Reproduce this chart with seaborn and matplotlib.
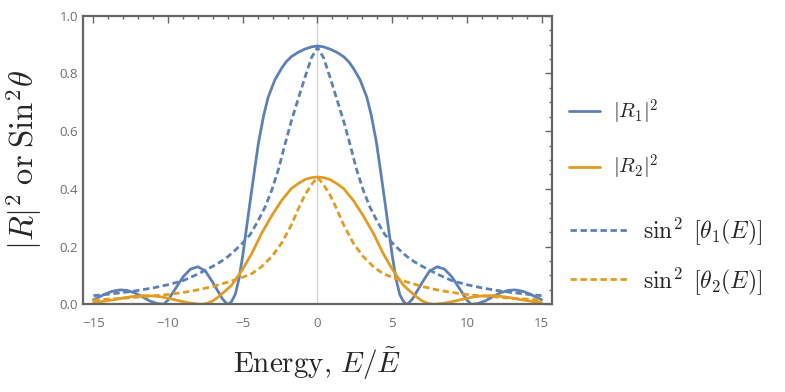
import numpy as np
import pandas as pd
import seaborn as sns
import matplotlib.pyplot as plt
from matplotlib.lines import Line2D
from matplotlib.ticker import MultipleLocator, FuncFormatter

# |R1|^2 (solid blue)
r1_x = [-15, -14.75, -14.25, -13.75, -13.2, -12.75, -12.25, -11.75, -11.25, -10.75, -10.3,
        -10, -9.5, -9, -8.5, -8, -7.5, -7, -6.6, -6.35, -6.1, -5.95, -5.75, -5.5, -5.25, -5,
        -4.75, -4.5, -4.2, -3.95, -3.6, -3.3, -2.85, -2.4, -2.1, -1.75, -1.3, -0.85, -0.4,
        0, 0.4, 0.85, 1.3, 1.75, 2.1, 2.4, 2.85, 3.3, 3.6, 3.95, 4.2, 4.5, 4.75,
        5, 5.25, 5.5, 5.75, 5.95, 6.1, 6.35, 6.6, 7, 7.5, 8, 8.5, 9, 9.5, 10, 10.3,
        10.75, 11.25, 11.75, 12.25, 12.75, 13.2, 13.75, 14.25, 14.75, 15]
r1_y = [0.016, 0.022, 0.035, 0.045, 0.05, 0.048, 0.04, 0.027, 0.012, 0.003, 0.0,
        0.015, 0.055, 0.095, 0.122, 0.13, 0.115, 0.075, 0.04, 0.018, 0.004, 0.0, 0.01, 0.035, 0.09, 0.17,
        0.265, 0.36, 0.47, 0.56, 0.655, 0.718, 0.778, 0.818, 0.84, 0.858, 0.873, 0.884, 0.892,
        0.895, 0.892, 0.884, 0.873, 0.858, 0.84, 0.818, 0.778, 0.718, 0.655, 0.56, 0.47, 0.36, 0.265,
        0.17, 0.09, 0.035, 0.01, 0.0, 0.004, 0.018, 0.04, 0.075, 0.115, 0.13, 0.122, 0.095, 0.055, 0.015, 0.0,
        0.003, 0.012, 0.027, 0.04, 0.048, 0.05, 0.045, 0.035, 0.022, 0.016]

# |R2|^2 (solid orange)
r2_x = [-15, -14.5, -14, -13.5, -13, -12.5, -12, -11.5, -11, -10.5, -10, -9.5, -9, -8.5,
        -7.8, -7.4, -7, -6.6, -6.2, -5.75, -5.05, -4.4, -3.75, -3.05, -2.4, -1.75, -1.3, -0.85, -0.4,
        0, 0.4, 0.85, 1.3, 1.75, 2.4, 3.05, 3.75, 4.4, 5.05, 5.75, 6.2, 6.6, 7, 7.4, 7.8,
        8.5, 9, 9.5, 10, 10.5, 11, 11.5, 12, 12.5, 13, 13.5, 14, 14.5, 15]
r2_y = [0.006, 0.009, 0.013, 0.017, 0.022, 0.026, 0.029, 0.03, 0.029, 0.026, 0.021, 0.015, 0.009, 0.004,
        0.0, 0.003, 0.012, 0.027, 0.045, 0.066, 0.118, 0.176, 0.245, 0.308, 0.36, 0.401, 0.418, 0.432, 0.439,
        0.441, 0.439, 0.432, 0.418, 0.401, 0.36, 0.308, 0.245, 0.176, 0.118, 0.066, 0.045, 0.027, 0.012, 0.003, 0.0,
        0.004, 0.009, 0.015, 0.021, 0.026, 0.029, 0.03, 0.029, 0.026, 0.022, 0.017, 0.013, 0.009, 0.006]

# sin^2 theta_1 (dashed blue)
s1_x = [-15, -14, -13, -12, -11, -10, -9, -8, -7, -6.5, -6, -5.5, -5, -4.5, -4, -3.5, -3.05,
        -2.6, -2.2, -1.75, -1.3, -0.85, -0.4, 0, 0.4, 0.85, 1.3, 1.75, 2.2, 2.6, 3.05, 3.5, 4,
        4.5, 5, 5.5, 6, 6.5, 7, 8, 9, 10, 11, 12, 13, 14, 15]
s1_y = [0.03, 0.035, 0.041, 0.048, 0.057, 0.068, 0.082, 0.105, 0.132, 0.147, 0.165, 0.188, 0.213, 0.242, 0.287, 0.338, 0.397,
        0.47, 0.55, 0.635, 0.71, 0.785, 0.855, 0.89, 0.855, 0.785, 0.71, 0.635, 0.55, 0.47, 0.397, 0.338, 0.287,
        0.242, 0.213, 0.188, 0.165, 0.147, 0.132, 0.105, 0.082, 0.068, 0.057, 0.048, 0.041, 0.035, 0.03]

# sin^2 theta_2 (dashed orange)
s2_x = [-15, -14, -13, -12, -11, -10, -9, -8, -7, -6, -5.3, -4.4, -3.75, -3.05, -2.4, -1.75,
        -1.2, -0.85, -0.4, 0, 0.4, 0.85, 1.2, 1.75, 2.4, 3.05, 3.75, 4.4, 5.3, 6, 7, 8, 9, 10,
        11, 12, 13, 14, 15]
s2_y = [0.015, 0.018, 0.021, 0.025, 0.029, 0.034, 0.041, 0.05, 0.062, 0.077, 0.088, 0.106, 0.13, 0.166, 0.212, 0.275,
        0.34, 0.378, 0.415, 0.44, 0.415, 0.378, 0.34, 0.275, 0.212, 0.166, 0.13, 0.106, 0.088, 0.077, 0.062, 0.05, 0.041, 0.034,
        0.029, 0.025, 0.021, 0.018, 0.015]

blue = "#5E81B5"
orange = "#E19C24"
frame = "#666666"
dash = (0, (2.3, 1.3))

sns.set_style("white")
plt.rcParams["mathtext.fontset"] = "cm"
plt.rcParams["font.family"] = ["Open Sans", "DejaVu Sans"]

fig = plt.figure(figsize=(7.85, 3.92), dpi=100)
ax = fig.add_axes([0.1057, 0.2237, 0.5975, 0.7363])

ax.axvline(0, color="#d4d4d4", lw=1.0, zorder=0)

sns.lineplot(x=r1_x, y=r1_y, ax=ax, color=blue, lw=2.0, estimator=None, sort=False)
sns.lineplot(x=r2_x, y=r2_y, ax=ax, color=orange, lw=2.0, estimator=None, sort=False)
sns.lineplot(x=s1_x, y=s1_y, ax=ax, color=blue, lw=2.0, linestyle=dash, estimator=None, sort=False)
sns.lineplot(x=s2_x, y=s2_y, ax=ax, color=orange, lw=2.0, linestyle=dash, estimator=None, sort=False)

ax.set_xlim(-15.7, 15.7)
ax.set_ylim(0, 1.0)
ax.xaxis.set_major_locator(MultipleLocator(5))
ax.xaxis.set_minor_locator(MultipleLocator(1))
ax.yaxis.set_major_locator(MultipleLocator(0.2))
ax.yaxis.set_minor_locator(MultipleLocator(0.05))
ax.xaxis.set_major_formatter(FuncFormatter(lambda v, p: f"{v:.0f}".replace("-", "\u2212")))
ax.yaxis.set_major_formatter(FuncFormatter(lambda v, p: f"{v:.1f}"))
ax.tick_params(which="both", direction="in", top=True, right=True, color=frame,
               labelcolor="#6e6e6e", labelsize=9.5, width=1.0)
ax.tick_params(which="major", length=5)
ax.tick_params(which="minor", length=2.5)
ax.tick_params(axis="x", which="both", pad=9)
for s in ax.spines.values():
    s.set_color(frame)
    s.set_linewidth(1.6)

ax.set_xlabel(r"$\mathrm{Energy},\, E/\tilde{E}$", fontsize=21, labelpad=11)
ax.set_ylabel(r"$|R|^2\;\mathrm{or}\;\mathrm{Sin}^2\theta$", fontsize=23.5, labelpad=11)

h_solid = [Line2D([], [], color=blue, lw=2.0), Line2D([], [], color=orange, lw=2.0)]
h_dash = [Line2D([], [], color=blue, lw=2.0, linestyle=dash),
          Line2D([], [], color=orange, lw=2.0, linestyle=dash)]
fig.legend(h_solid, [r"$|R_1|^2$", r"$|R_2|^2$"], loc="center left",
           bbox_to_anchor=(0.711, 0.643), frameon=False, fontsize=15,
           handlelength=1.5, handletextpad=0.65, labelspacing=1.25, borderpad=0)
fig.legend(h_dash, [r"$\sin^2\ \left[\theta_1(E)\right]$", r"$\sin^2\ \left[\theta_2(E)\right]$"],
           loc="center left", bbox_to_anchor=(0.711, 0.347), frameon=False, fontsize=17,
           handlelength=2.45, handletextpad=0.65, labelspacing=0.75, borderpad=0)

fig.savefig("out.png", dpi=100)
